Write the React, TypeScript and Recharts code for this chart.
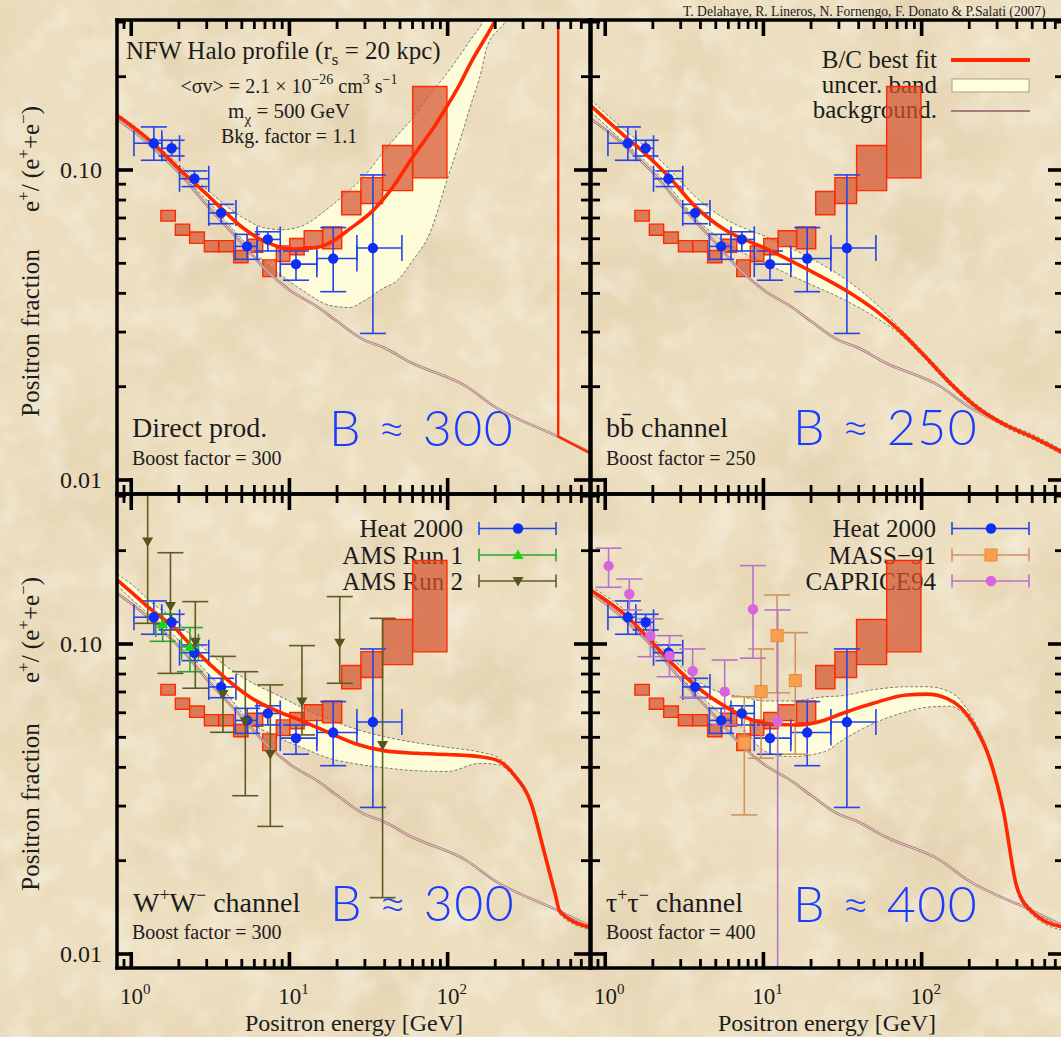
import React from 'react';
import {
  ComposedChart, Line, Area, Scatter, XAxis, YAxis, ErrorBar, ReferenceArea,
} from 'recharts';

const SERIF = '"Liberation Serif", "Times New Roman", serif';
const HAND = 'Lato, "DejaVu Sans", sans-serif';
const PAGE_W = 1061;
const PAGE_H = 1037;
const CHART_W = 1064;
const PLOT_W = 473;
const PLOT_H = 474;
const AXIS_SIZE = 1;

const X_DOMAIN = [0.8128, 794.3];
const Y_DOMAIN = [0.009012, 0.3047];
const X_TICKS = [0.9, 1, 2, 3, 4, 5, 6, 7, 8, 9, 10, 20, 30, 40, 50, 60, 70, 80, 90, 100, 200, 300, 400, 500, 600, 700];
const X_MAJOR = [1, 10, 100];
const Y_TICKS = [0.01, 0.02, 0.03, 0.04, 0.05, 0.06, 0.07, 0.08, 0.09, 0.1, 0.2, 0.3];
const Y_MAJOR = [0.01, 0.1];

// HEAT 2000
const heatE = [1.39, 1.8, 2.51, 3.7, 5.4, 7.3, 11.0, 18.9, 33.7];
const heatF = [0.122, 0.1175, 0.0937, 0.0727, 0.0567, 0.0597, 0.0497, 0.0518, 0.056];
const heatELo = [1.04, 1.56, 2.02, 3.09, 4.55, 6.24, 8.75, 14.9, 26.7];
const heatEHi = [1.56, 2.02, 3.09, 4.59, 6.24, 8.75, 14.9, 26.7, 51.4];
const heatFLo = [0.1075, 0.111, 0.0884, 0.0671, 0.0515, 0.0548, 0.0441, 0.0405, 0.0297];
const heatFHi = [0.1377, 0.1247, 0.0993, 0.0775, 0.062, 0.0632, 0.0548, 0.0652, 0.0964];

// AMS run 1
const ams1E = [1.58, 2.35];
const ams1F = [0.116, 0.098];
const ams1ELo = [1.43, 2.08];
const ams1EHi = [1.76, 2.66];
const ams1FLo = [0.102, 0.0814];
const ams1FHi = [0.125, 0.113];

// AMS run 2 (first upper bar runs off the top of the frame)
const ams2E = [1.27, 1.77, 2.54, 3.8, 5.26, 7.57, 12.0, 20.8, 38.8];
const ams2F = [0.214, 0.1326, 0.1017, 0.069, 0.0562, 0.0442, 0.0652, 0.101, 0.0472];
const ams2FLo = [0.1166, 0.0804, 0.072, 0.0519, 0.0324, 0.0258, 0.0509, 0.0747, 0.0152];
const ams2FHi = [0.302, 0.197, 0.137, 0.0912, 0.0814, 0.0738, 0.0988, 0.1422, 0.121];

// MASS-91
const massE = [7.57, 9.66, 12.2, 15.9];
const massF = [0.0479, 0.0702, 0.1064, 0.0762];
const massFLo = [0.0281, 0.0428, 0.0696, 0.0441];
const massFHi = [0.0676, 0.0964, 0.1439, 0.1088];

// CAPRICE94 (last lower bar runs off the bottom of the frame)
const capE = [1.05, 1.42, 1.93, 2.55, 3.57, 5.69, 8.59, 12.3];
const capF = [0.1787, 0.145, 0.1061, 0.0917, 0.0818, 0.0702, 0.1294, 0.0562];
const capFLo = [0.1524, 0.1288, 0.091, 0.0784, 0.0673, 0.0548, 0.09, 0.0091];
const capFHi = [0.2037, 0.162, 0.1205, 0.1064, 0.0964, 0.0888, 0.179, 0.1288];

// PAMELA boxes
const pamELo = [1.54, 1.9, 2.34, 2.9, 3.57, 4.44, 5.47, 6.78, 8.26, 10.05, 12.4, 16.2, 21.4, 28.3, 38.8, 60.1];
const pamEHi = [1.9, 2.34, 2.9, 3.57, 4.44, 5.47, 6.78, 8.26, 10.05, 12.4, 16.2, 21.4, 28.3, 38.8, 60.1, 99.0];
const pamFTop = [0.0741, 0.0669, 0.0631, 0.0592, 0.0592, 0.055, 0.0598, 0.0513, 0.0569, 0.0601, 0.0637, 0.0655, 0.0852, 0.0945, 0.12, 0.186];
const pamFBot = [0.0684, 0.0616, 0.058, 0.0545, 0.0545, 0.0502, 0.0543, 0.0453, 0.0507, 0.0533, 0.0566, 0.0557, 0.0717, 0.078, 0.0858, 0.0943];

// secondary background
const bkgE = [0.813, 1, 1.5, 2, 3, 5, 7.3, 10, 15, 20, 30, 39, 60, 130, 200, 500, 794];
const bkgF = [0.146, 0.135, 0.113, 0.098, 0.077, 0.058, 0.047, 0.041, 0.0362, 0.0325, 0.0282, 0.0268, 0.0238, 0.0201, 0.0172, 0.0138, 0.0123];

// direct production, m = 500 GeV
const directE = [0.813, 1.0, 1.37, 2.0, 3.0, 4.0, 5.0, 7.0, 10.0, 14.0, 18.0, 24.2, 33.8, 45, 60, 80, 98.6, 120, 139, 195, 300, 500];
const directF = [0.15, 0.139, 0.122, 0.101, 0.0835, 0.0725, 0.0655, 0.0588, 0.0556, 0.056, 0.0582, 0.0647, 0.0741, 0.088, 0.11, 0.135, 0.16, 0.19, 0.22, 0.296, 0.45, 0.8];
const directTailE = [500, 500, 794];
const directTailF = [0.8, 0.0138, 0.0122];
const directBandE = [0.813, 1.0, 2.0, 3.0, 5.0, 7.0, 9.0, 12, 18, 24, 30, 39, 48, 60, 77, 99, 120, 139, 164, 177, 230, 300];
const directBandLo = [0.147, 0.136, 0.099, 0.08, 0.06, 0.0505, 0.0455, 0.041, 0.0366, 0.036, 0.038, 0.0415, 0.044, 0.051, 0.0624, 0.0927, 0.125, 0.16, 0.21, 0.249, 0.3, 0.4];
const directBandHi = [0.152, 0.141, 0.104, 0.0865, 0.0705, 0.065, 0.0642, 0.066, 0.076, 0.086, 0.096, 0.114, 0.129, 0.147, 0.175, 0.205, 0.235, 0.262, 0.296, 0.32, 0.4, 0.55];

// b bbar channel
const bbE = [0.813, 1.34, 1.79, 2.52, 3.71, 5.74, 10.3, 18.4, 32.9, 50.9, 71.6, 105.5, 155, 229, 338, 522, 794];
const bbF = [0.161, 0.128, 0.113, 0.0952, 0.0762, 0.064, 0.0559, 0.0482, 0.041, 0.0353, 0.0305, 0.025, 0.0203, 0.017, 0.01505, 0.01363, 0.0122];
const bbBandLo = [0.154, 0.122, 0.107, 0.089, 0.07, 0.0585, 0.05, 0.0435, 0.038, 0.0335, 0.0298, 0.0245, 0.0199, 0.0167, 0.0148, 0.0134, 0.012];
const bbBandHi = [0.168, 0.134, 0.119, 0.101, 0.082, 0.0695, 0.061, 0.053, 0.0445, 0.0372, 0.0312, 0.0255, 0.0207, 0.0173, 0.0153, 0.0139, 0.0124];

// W+W- channel
const wwE = [0.813, 1.0, 1.39, 1.85, 2.6, 3.84, 5.66, 8.34, 12.3, 18.1, 26.7, 39.4, 64, 100, 160, 209, 262, 337, 409, 480, 512, 794];
const wwF = [0.161, 0.147, 0.127, 0.1137, 0.0944, 0.0785, 0.0673, 0.0608, 0.0562, 0.0515, 0.0475, 0.0453, 0.0444, 0.044, 0.0433, 0.042, 0.0379, 0.0306, 0.0212, 0.0155, 0.0137, 0.0122];
const wwBandLo = [0.155, 0.14, 0.121, 0.107, 0.0877, 0.071, 0.0562, 0.0502, 0.0461, 0.0427, 0.041, 0.0399, 0.039, 0.0388, 0.0412, 0.0408, 0.0372, 0.03, 0.0208, 0.0152, 0.0134, 0.012];
const wwBandHi = [0.168, 0.156, 0.134, 0.121, 0.1017, 0.086, 0.0755, 0.0685, 0.062, 0.057, 0.053, 0.0503, 0.048, 0.0464, 0.0448, 0.043, 0.0386, 0.0312, 0.0216, 0.0158, 0.014, 0.0124];

// tau+tau- channel
const tauE = [0.813, 1.34, 1.88, 2.64, 3.9, 5.74, 8.47, 11.3, 16.7, 24.6, 31.4, 49.5, 80.5, 108, 144, 212, 271, 328, 399, 497, 761, 794];
const tauF = [0.149, 0.124, 0.1043, 0.0866, 0.0719, 0.0628, 0.0569, 0.0551, 0.0548, 0.0569, 0.0597, 0.0644, 0.0685, 0.0689, 0.0668, 0.0554, 0.0422, 0.0291, 0.0165, 0.0137, 0.01225, 0.0122];
const tauBandE = [0.813, 1.34, 1.88, 2.64, 3.9, 5.3, 7.3, 10.3, 15, 24.6, 30.5, 49.5, 80.5, 108, 150, 212, 271, 328, 399, 497, 794];
const tauBandLo = [0.145, 0.12, 0.1, 0.083, 0.069, 0.06, 0.054, 0.045, 0.0433, 0.045, 0.0484, 0.0554, 0.0605, 0.0625, 0.063, 0.054, 0.0412, 0.0284, 0.0161, 0.0134, 0.0119];
const tauBandHi = [0.153, 0.128, 0.108, 0.09, 0.0755, 0.0698, 0.0676, 0.0655, 0.0655, 0.0676, 0.068, 0.0712, 0.0728, 0.0728, 0.0702, 0.0572, 0.0432, 0.0298, 0.0169, 0.014, 0.0124];

const curve = (E: number[], f: number[]) => E.map((e, i) => ({ E: e, f: f[i] }));
const band = (E: number[], lo: number[], hi: number[]) => E.map((e, i) => ({ E: e, band: [lo[i], hi[i]] }));
const points = (E: number[], f: number[], fLo: number[], fHi: number[], ELo?: number[], EHi?: number[]) =>
  E.map((e, i) => ({
    E: e,
    f: f[i],
    ey: [f[i] - fLo[i], fHi[i] - f[i]],
    ex: ELo && EHi ? [e - ELo[i], EHi[i] - e] : [0, 0],
  }));

const bkgRows = curve(bkgE, bkgF);

const dot = (color: string, r: number) => (p: any) => <circle cx={p.cx} cy={p.cy} r={r} fill={color} />;
const triUp = (color: string) => (p: any) => (
  <path d={`M${p.cx},${p.cy - 5.5}L${p.cx + 5.5},${p.cy + 4}L${p.cx - 5.5},${p.cy + 4}Z`} fill={color} />
);
const triDown = (color: string) => (p: any) => (
  <path d={`M${p.cx - 5.5},${p.cy - 4}L${p.cx + 5.5},${p.cy - 4}L${p.cx},${p.cy + 5.5}Z`} fill={color} />
);
const square = (color: string, edge: string) => (p: any) => (
  <rect x={p.cx - 6} y={p.cy - 6} width={12} height={12} fill={color} stroke={edge} strokeWidth={1} />
);

const SERIES: Record<string, any> = {
  heat: { rows: points(heatE, heatF, heatFLo, heatFHi, heatELo, heatEHi), bar: '#2544E6', shape: dot('#0F2EF5', 5.2), xErr: true },
  ams1: { rows: points(ams1E, ams1F, ams1FLo, ams1FHi, ams1ELo, ams1EHi), bar: '#2EA42E', shape: triUp('#12D812'), xErr: true },
  ams2: { rows: points(ams2E, ams2F, ams2FLo, ams2FHi), bar: '#5E5C22', shape: triDown('#55541A'), xErr: false },
  mass: { rows: points(massE, massF, massFLo, massFHi), bar: '#D39262', shape: square('#F8A04E', '#E58A3C'), xErr: false },
  caprice: { rows: points(capE, capF, capFLo, capFHi), bar: '#B774C4', shape: dot('#D865E0', 5.2), xErr: false },
};

const PANELS = [
  { id: 'direct', left: 117, top: 20, xLabels: false, yLabels: true, red: curve(directE, directF), tail: curve(directTailE, directTailF), band: band(directBandE, directBandLo, directBandHi), sets: ['heat'] },
  { id: 'bb', left: 591, top: 20, xLabels: false, yLabels: false, red: curve(bbE, bbF), tail: null, band: band(bbE, bbBandLo, bbBandHi), sets: ['heat'] },
  { id: 'ww', left: 117, top: 494, xLabels: true, yLabels: true, red: curve(wwE, wwF), tail: null, band: band(wwE, wwBandLo, wwBandHi), sets: ['heat', 'ams1', 'ams2'] },
  { id: 'tau', left: 591, top: 494, xLabels: true, yLabels: false, red: curve(tauE, tauF), tail: null, band: band(tauBandE, tauBandLo, tauBandHi), sets: ['heat', 'mass', 'caprice'] },
];

const frameLine = { stroke: '#000', strokeWidth: 3.5, strokeLinecap: 'square' as const };

const xTick = (side: 'bottom' | 'top', labels: boolean) => (p: any) => {
  const v = p.payload.value;
  const major = X_MAJOR.includes(v);
  const len = major ? 16 : 9;
  const d = side === 'bottom' ? -1 : 1;
  const exp = Math.round(Math.log10(v));
  return (
    <g>
      <line x1={p.x} x2={p.x} y1={p.y} y2={p.y + d * len} stroke="#000" strokeWidth={major ? 3.6 : 2.8} />
      {labels && major ? (
        <text x={p.x + 4} y={p.y + 36} textAnchor="middle" fontFamily={SERIF} fontSize={23} fill="#1a1a1a">
          10<tspan dy={-10} fontSize={15}>{exp}</tspan>
        </text>
      ) : null}
    </g>
  );
};

const yTick = (side: 'left' | 'right', labels: boolean) => (p: any) => {
  const v = p.payload.value;
  const major = Y_MAJOR.includes(v);
  const len = major ? 16 : 9;
  const d = side === 'left' ? 1 : -1;
  return (
    <g>
      <line x1={p.x} x2={p.x + d * len} y1={p.y} y2={p.y} stroke="#000" strokeWidth={major ? 3.6 : 2.8} />
      {labels && major ? (
        <text x={p.x - 15} y={p.y + 8} textAnchor="end" fontFamily={SERIF} fontSize={24} fill="#1a1a1a">
          {v === 0.1 ? '0.10' : '0.01'}
        </text>
      ) : null}
    </g>
  );
};

function PanelChart({ cfg }: { cfg: any }) {
  // the 1px axes sit inside the margins, so the plot box keeps its exact position
  const margin = {
    left: cfg.left - AXIS_SIZE,
    top: cfg.top - AXIS_SIZE,
    right: CHART_W - cfg.left - PLOT_W - AXIS_SIZE,
    bottom: PAGE_H - cfg.top - PLOT_H - AXIS_SIZE,
  };
  const axisCommon = { type: 'number' as const, scale: 'log' as const, allowDataOverflow: true, interval: 0 as const, tickLine: false, tickSize: 0, tickMargin: 0, axisLine: frameLine };
  return (
    <ComposedChart width={CHART_W} height={PAGE_H} margin={margin}>
      <XAxis xAxisId="b" dataKey="E" orientation="bottom" domain={X_DOMAIN} ticks={X_TICKS} height={AXIS_SIZE} tick={xTick('bottom', cfg.xLabels)} {...axisCommon} />
      <XAxis xAxisId="t" dataKey="E" orientation="top" domain={X_DOMAIN} ticks={X_TICKS} height={AXIS_SIZE} tick={xTick('top', false)} {...axisCommon} />
      <YAxis yAxisId="l" dataKey="f" orientation="left" domain={Y_DOMAIN} ticks={Y_TICKS} width={AXIS_SIZE} tick={yTick('left', cfg.yLabels)} {...axisCommon} />
      <YAxis yAxisId="r" dataKey="f" orientation="right" domain={Y_DOMAIN} ticks={Y_TICKS} width={AXIS_SIZE} tick={yTick('right', false)} {...axisCommon} />

      <Area xAxisId="b" yAxisId="l" data={cfg.band} dataKey="band" type="monotone" fill="#FFFFDC" fillOpacity={0.9}
        stroke="#7a7a72" strokeWidth={1} strokeDasharray="3 2" isAnimationActive={false} dot={false} activeDot={false} />

      <Line xAxisId="b" yAxisId="l" data={bkgRows} dataKey="f" type="monotone" stroke="#A87C7C" strokeWidth={2.6} dot={false} activeDot={false} isAnimationActive={false} />
      <Line xAxisId="b" yAxisId="l" data={bkgRows} dataKey="f" type="monotone" stroke="#EFD9D2" strokeWidth={0.9} dot={false} activeDot={false} isAnimationActive={false} />

      {cfg.sets.map((key: string) => {
        const s = SERIES[key];
        return (
          <Scatter key={key} xAxisId="b" yAxisId="l" data={s.rows} dataKey="f" shape={s.shape} isAnimationActive={false}>
            <ErrorBar dataKey="ey" direction="y" width={13} stroke={s.bar} strokeWidth={1.6} isAnimationActive={false} />
            {s.xErr ? <ErrorBar dataKey="ex" direction="x" width={13} stroke={s.bar} strokeWidth={1.6} isAnimationActive={false} /> : null}
          </Scatter>
        );
      })}

      {pamELo.map((lo, i) => (
        <ReferenceArea key={`pam${i}`} xAxisId="b" yAxisId="l" x1={lo} x2={pamEHi[i]} y1={pamFBot[i]} y2={pamFTop[i]}
          fill="#D4532F" fillOpacity={0.72} stroke="#FF2A00" strokeWidth={1.4} strokeOpacity={1} ifOverflow="visible" />
      ))}

      <Line xAxisId="b" yAxisId="l" data={cfg.red} dataKey="f" type="monotone" stroke="#FF2800" strokeWidth={3.6} dot={false} activeDot={false} isAnimationActive={false} />
      {cfg.tail ? (
        <Line xAxisId="b" yAxisId="l" data={cfg.tail} dataKey="f" type="linear" stroke="#FF2800" strokeWidth={2.4} dot={false} activeDot={false} isAnimationActive={false} />
      ) : null}
    </ComposedChart>
  );
}

function Paper() {
  return (
    <svg width={PAGE_W} height={PAGE_H} style={{ position: 'absolute', left: 0, top: 0 }}>
      <defs>
        <filter id="mottle" x="0" y="0" width="100%" height="100%">
          <feTurbulence type="fractalNoise" baseFrequency="0.007 0.009" numOctaves={4} seed={11} />
          <feColorMatrix type="matrix" values="0 0 0 0 0.66  0 0 0 0 0.5  0 0 0 0 0.3  0 0 0 2.4 -1.05" />
        </filter>
        <filter id="fleck" x="0" y="0" width="100%" height="100%">
          <feTurbulence type="fractalNoise" baseFrequency="0.03" numOctaves={3} seed={4} />
          <feColorMatrix type="matrix" values="0 0 0 0 1  0 0 0 0 0.98  0 0 0 0 0.92  0 0 0 2.2 -1.0" />
        </filter>
      </defs>
      <rect width={PAGE_W} height={PAGE_H} fill="#ECDEBF" />
      <rect width={PAGE_W} height={PAGE_H} filter="url(#mottle)" opacity={0.32} />
      <rect width={PAGE_W} height={PAGE_H} filter="url(#fleck)" opacity={0.4} />
    </svg>
  );
}

function LegendRow({ x, y, label, bar, marker }: any) {
  // label right edge at x, sample bar starts 16px to the right
  const x1 = x + 16;
  const x2 = x + 93;
  const mx = x + 55;
  const cy = y - 8.5;
  return (
    <g>
      <text x={x} y={y} textAnchor="end" fontFamily={SERIF} fontSize={25} fill="#1c1c1c">{label}</text>
      <line x1={x1} x2={x2} y1={cy} y2={cy} stroke={bar} strokeWidth={1.6} />
      <line x1={x1} x2={x1} y1={cy - 6.5} y2={cy + 6.5} stroke={bar} strokeWidth={1.6} />
      <line x1={x2} x2={x2} y1={cy - 6.5} y2={cy + 6.5} stroke={bar} strokeWidth={1.6} />
      {marker({ cx: mx, cy })}
    </g>
  );
}

function Annotations() {
  const t = { fontFamily: SERIF, fill: '#1c1c1c' };
  const big = { fontFamily: HAND, fontWeight: 300, fill: '#1A3CFF', fontSize: 50, letterSpacing: 1.5 };
  return (
    <svg width={PAGE_W} height={PAGE_H} style={{ position: 'absolute', left: 0, top: 0 }}>
      <text x={683} y={16} {...t} fontSize={13.6}>T. Delahaye, R. Lineros, N. Fornengo, F. Donato &amp; P.Salati (2007)</text>

      <text x={126} y={59} {...t} fontSize={25}>
        NFW Halo profile (r<tspan dy={6} fontSize={17}>s</tspan><tspan dy={-6}> = 20 kpc)</tspan>
      </text>
      <text x={289} y={93} textAnchor="middle" {...t} fontSize={20}>
        {'<σv> = 2.1 × 10'}<tspan dy={-9} fontSize={14}>−26</tspan><tspan dy={9}> cm</tspan>
        <tspan dy={-9} fontSize={14}>3</tspan><tspan dy={9}> s</tspan><tspan dy={-9} fontSize={14}>−1</tspan>
      </text>
      <text x={289} y={118} textAnchor="middle" {...t} fontSize={21}>
        m<tspan dy={6} fontSize={15}>χ</tspan><tspan dy={-6}> = 500 GeV</tspan>
      </text>
      <text x={289} y={143} textAnchor="middle" {...t} fontSize={20}>Bkg. factor = 1.1</text>

      <text x={132} y={437} {...t} fontSize={28}>Direct prod.</text>
      <text x={132} y={465} {...t} fontSize={20}>Boost factor = 300</text>
      <text x={606} y={437} {...t} fontSize={28}>b{'b\u0304'} channel</text>
      <text x={606} y={465} {...t} fontSize={20}>Boost factor = 250</text>
      <text x={133} y={912} {...t} fontSize={28}>
        W<tspan dy={-11} fontSize={18}>+</tspan><tspan dy={11}>W</tspan><tspan dy={-11} fontSize={18}>−</tspan><tspan dy={11}> channel</tspan>
      </text>
      <text x={132} y={939} {...t} fontSize={20}>Boost factor = 300</text>
      <text x={606} y={912} {...t} fontSize={28}>
        τ<tspan dy={-11} fontSize={18}>+</tspan><tspan dy={11}>τ</tspan><tspan dy={-11} fontSize={18}>−</tspan><tspan dy={11}> channel</tspan>
      </text>
      <text x={606} y={939} {...t} fontSize={20}>Boost factor = 400</text>

      <text x={329} y={446} {...big}>B ≈ 300</text>
      <text x={793} y={445} {...big}>B ≈ 250</text>
      <text x={330} y={921} {...big}>B ≈ 300</text>
      <text x={793} y={922} {...big}>B ≈ 400</text>

      {/* model legend */}
      <text x={937} y={68} textAnchor="end" {...t} fontSize={25}>B/C best fit</text>
      <line x1={951} x2={1030} y1={60} y2={60} stroke="#FF2800" strokeWidth={4} />
      <text x={937} y={93} textAnchor="end" {...t} fontSize={25}>uncer. band</text>
      <rect x={952} y={79} width={77} height={13} fill="#FFFFDC" stroke="#A8A08A" strokeWidth={1} />
      <text x={937} y={118} textAnchor="end" {...t} fontSize={25}>background.</text>
      <line x1={951} x2={1030} y1={111} y2={111} stroke="#A87C7C" strokeWidth={1.8} />

      {/* data legends */}
      <LegendRow x={463} y={537} label="Heat 2000" bar={SERIES.heat.bar} marker={SERIES.heat.shape} />
      <LegendRow x={463} y={563.5} label="AMS Run 1" bar={SERIES.ams1.bar} marker={SERIES.ams1.shape} />
      <LegendRow x={463} y={589.5} label="AMS Run 2" bar={SERIES.ams2.bar} marker={SERIES.ams2.shape} />
      <LegendRow x={936} y={537} label="Heat 2000" bar={SERIES.heat.bar} marker={SERIES.heat.shape} />
      <LegendRow x={936} y={563.5} label="MASS−91" bar={SERIES.mass.bar} marker={SERIES.mass.shape} />
      <LegendRow x={936} y={589.5} label="CAPRICE94" bar={SERIES.caprice.bar} marker={SERIES.caprice.shape} />

      {/* axis titles */}
      {[333, 807].map((cy) => (
        <text key={`pf${cy}`} x={39} y={cy} transform={`rotate(-90 39 ${cy})`} textAnchor="middle" {...t} fontSize={25}>Positron fraction</text>
      ))}
      {[159, 630].map((cy) => (
        <text key={`ef${cy}`} x={39} y={cy} transform={`rotate(-90 39 ${cy})`} textAnchor="middle" {...t} fontSize={25}>
          e<tspan dy={-10} fontSize={17}>+</tspan><tspan dy={10}>/ (e</tspan><tspan dy={-10} fontSize={17}>+</tspan>
          <tspan dy={10}>+e</tspan><tspan dy={-10} fontSize={17}>−</tspan><tspan dy={10}>)</tspan>
        </text>
      ))}
      <text x={354} y={1031} textAnchor="middle" {...t} fontSize={24}>Positron energy [GeV]</text>
      <text x={827} y={1031} textAnchor="middle" {...t} fontSize={24}>Positron energy [GeV]</text>
    </svg>
  );
}

export default function App() {
  return (
    <div style={{ position: 'absolute', left: 0, top: 0, width: PAGE_W, height: PAGE_H, overflow: 'hidden', background: '#ECDEBF' }}>
      <Paper />
      <Annotations />
      {PANELS.map((cfg) => (
        <div key={cfg.id} style={{ position: 'absolute', left: 0, top: 0 }}>
          <PanelChart cfg={cfg} />
        </div>
      ))}
    </div>
  );
}
